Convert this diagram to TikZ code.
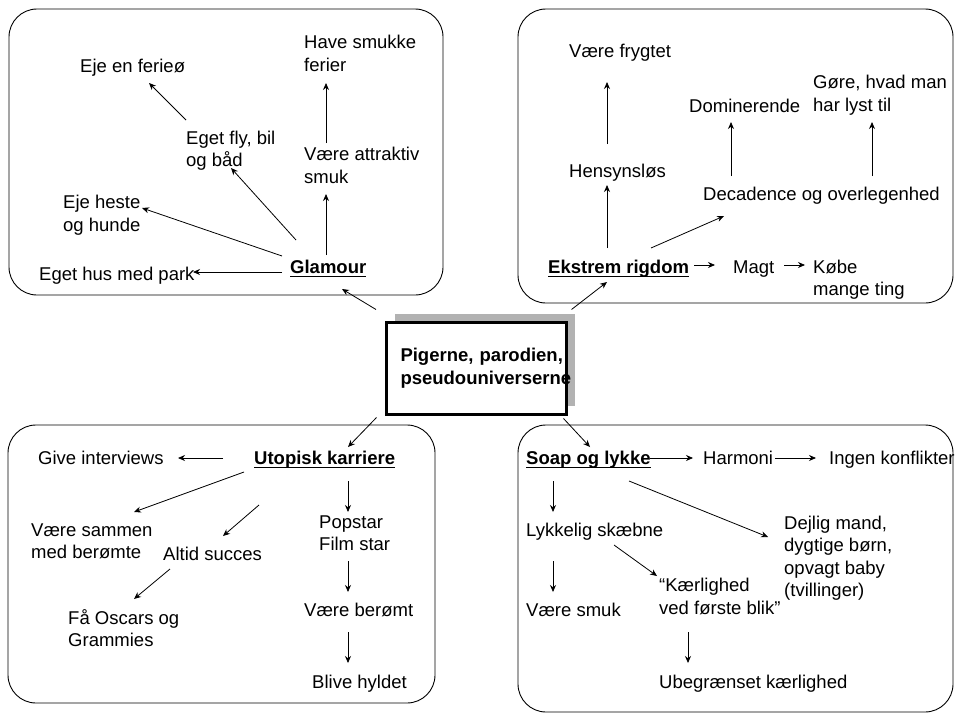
\documentclass[tikz,border=0pt]{standalone}
\usepackage{fontspec}
\setmainfont{Liberation Sans}
\usetikzlibrary{arrows.meta,shadows}
\newsavebox\ulsave
\newcommand\ulhead[1]{\sbox\ulsave{#1}\rlap{\rule[-3.8pt]{\wd\ulsave}{1.2pt}}\usebox\ulsave}

\begin{document}
\begin{tikzpicture}[x=1pt,y=-1pt,
    font=\fontsize{18.5}{22.5}\selectfont,
    txt/.style={anchor=base west,inner sep=0pt,align=left},
    head/.style={txt,font=\bfseries\fontsize{18.5}{22.5}\selectfont},
    arr/.style={-{Stealth[length=7pt,width=6pt]},line width=0.8pt},
    area/.style={draw,line width=0.9pt,rounded corners=28pt}]
    \useasboundingbox (0,0) rectangle (960,720);
    % the four areas
    \draw [area] (9,9) rectangle (443,295);
    \draw [area] (518,9) rectangle (953,303);
    \draw [area] (8,425) rectangle (435,703);
    \draw [area] (518,425) rectangle (953,712);
    % centre
    \node [draw,line width=3pt,fill=white,minimum width=180pt,minimum height=92pt,
           text width=152pt,inner xsep=14pt,align=left,
           font=\bfseries\fontsize{18.5}{23}\selectfont,
           drop shadow={shadow xshift=8pt,shadow yshift=9pt,fill=gray!60,opacity=1}]
           (hub) at (476.5,368.5) {\mbox{Pigerne, parodien,}\\\mbox{pseudouniverserne}};
    % Glamour (multi-line texts sit on their last line)
    \node [head] (glam) at (290,273) {\ulhead{Glamour}};
    \node [txt] (hus) at (39,280) {Eget hus med park};
    \node [txt] (heste) at (63,231) {Eje heste\\og hunde};
    \node [txt] (fly) at (186,166.5) {Eget fly, bil\\og båd};
    \node [txt] (ferie) at (80,72.5) {Eje en ferieø};
    \node [txt] (attr) at (304,183) {Være attraktiv\\smuk};
    \node [txt] (have) at (304,71) {Have smukke\\ferier};
    \draw [arr] ([shift={(-9,-11.5)}]hub.north west) -- ([shift={(52,16)}]glam.base west);
    \draw [arr] ([shift={(-8,-1)}]glam.base west) -- ([shift={(154,-8)}]hus.base west);
    \draw [arr] ([shift={(-8,-17)}]glam.base west) -- ([shift={(79,-23)}]heste.base west);
    \draw [arr] ([shift={(6,-33)}]glam.base west) -- ([shift={(45,1.5)}]fly.base west);
    \draw [arr] ([shift={(36,-18)}]glam.base west) -- ([shift={(22,11)}]attr.base west);
    \draw [arr] ([shift={(22,-40)}]attr.base west) -- ([shift={(22,12)}]have.base west);
    \draw [arr] ([shift={(0,-46.5)}]fly.base west) -- ([shift={(69,10.5)}]ferie.base west);
    % Ekstrem rigdom
    \node [head] (rig) at (548,273) {\ulhead{Ekstrem rigdom}};
    \node [txt] (hens) at (569,177) {Hensynsløs};
    \node [txt] (fryg) at (569,57) {Være frygtet};
    \node [txt] (deca) at (703,200) {Decadence og overlegenhed};
    \node [txt] (domi) at (689,112.5) {Dominerende};
    \node [txt] (gore) at (813,111) {Gøre, hvad man\\har lyst til};
    \node [txt] (magt) at (733,273) {Magt};
    \node [txt] (kobe) at (813,295.5) {Købe\\mange ting};
    \draw [arr] ([shift={(3.5,-11.5)}]hub.north east) -- ([shift={(59,9)}]rig.base west);
    \draw [arr] ([shift={(59,-25)}]rig.base west) -- ([shift={(38,8)}]hens.base west);
    \draw [arr] ([shift={(38,-33)}]hens.base west) -- ([shift={(38,25)}]fryg.base west);
    \draw [arr] ([shift={(103,-25)}]rig.base west) -- ([shift={(21,16)}]deca.base west);
    \draw [arr] ([shift={(28,-24)}]deca.base west) -- ([shift={(42,9.5)}]domi.base west);
    \draw [arr] ([shift={(169,-24)}]deca.base west) -- ([shift={(59,11)}]gore.base west);
    \draw [arr] ([shift={(146,-8)}]rig.base west) -- ([shift={(-18,-8)}]magt.base west);
    \draw [arr] ([shift={(51,-8)}]magt.base west) -- ([shift={(-8,-30.5)}]kobe.base west);
    % Utopisk karriere
    \node [head] (uto) at (254,464) {\ulhead{Utopisk karriere}};
    \node [txt] (inter) at (38,464) {Give interviews};
    \node [txt] (samm) at (31,558.5) {Være sammen\\med berømte};
    \node [txt] (succ) at (163,560) {Altid succes};
    \node [txt] (osc) at (68,646.5) {Få Oscars og\\Grammies};
    \node [txt] (pop) at (319,550.5) {Popstar\\Film star};
    \node [txt] (berm) at (304,616.5) {Være berømt};
    \node [txt] (hyld) at (312,688) {Blive hyldet};
    \draw [arr] ([shift={(-8.5,1.5)}]hub.south west) -- ([shift={(94,-17)}]uto.base west);
    \draw [arr] ([shift={(-31,-6)}]uto.base west) -- ([shift={(140,-6)}]inter.base west);
    \draw [arr] ([shift={(-10,8)}]uto.base west) -- ([shift={(103,-46.5)}]samm.base west);
    \draw [arr] ([shift={(5,41)}]uto.base west) -- ([shift={(60,-24)}]succ.base west);
    \draw [arr] ([shift={(7,9)}]succ.base west) -- ([shift={(66,-47.5)}]osc.base west);
    \draw [arr] ([shift={(94,17)}]uto.base west) -- ([shift={(29,-38.5)}]pop.base west);
    \draw [arr] ([shift={(29,10.5)}]pop.base west) -- ([shift={(44,-24.5)}]berm.base west);
    \draw [arr] ([shift={(44,15.5)}]berm.base west) -- ([shift={(36,-25)}]hyld.base west);
    % Soap og lykke
    \node [head] (soap) at (526,464) {\ulhead{Soap og lykke}};
    \node [txt] (harm) at (703,464) {Harmoni};
    \node [txt] (ingen) at (829,464) {Ingen konflikter};
    \node [txt] (lykk) at (526,536) {Lykkelig skæbne};
    \node [txt] (smuk) at (526,616) {Være smuk};
    \node [txt] (kaer) at (659,614) {“Kærlighed\\ved første blik”};
    \node [txt] (ubeg) at (659,688) {Ubegrænset kærlighed};
    \node [txt] (dejl) at (784,596.5) {Dejlig mand,\\dygtige børn,\\opvagt baby\\(tvillinger)};
    \draw [arr] ([shift={(-4.5,2.5)}]hub.south east) -- ([shift={(64,-17)}]soap.base west);
    \draw [arr] ([shift={(124,-6)}]soap.base west) -- ([shift={(-10,-6)}]harm.base west);
    \draw [arr] ([shift={(72,-6)}]harm.base west) -- ([shift={(-13,-6)}]ingen.base west);
    \draw [arr] ([shift={(27,17)}]soap.base west) -- ([shift={(27,-24)}]lykk.base west);
    \draw [arr] ([shift={(27,25)}]lykk.base west) -- ([shift={(27,-24)}]smuk.base west);
    \draw [arr] ([shift={(88,9)}]lykk.base west) -- ([shift={(-2,-38)}]kaer.base west);
    \draw [arr] ([shift={(29,18)}]kaer.base west) -- ([shift={(29,-25)}]ubeg.base west);
    \draw [arr] ([shift={(103,17)}]soap.base west) -- ([shift={(-16,-59.5)}]dejl.base west);
\end{tikzpicture}
\end{document}
